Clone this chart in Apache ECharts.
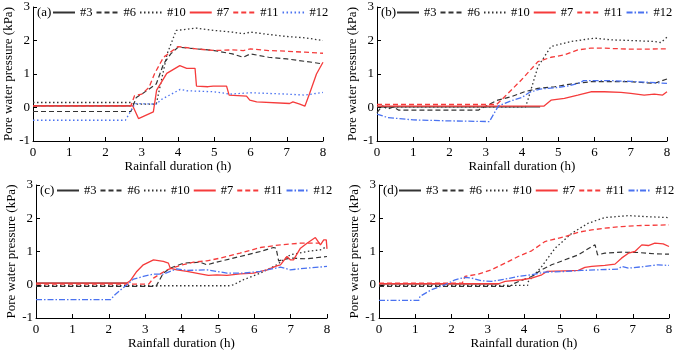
<!DOCTYPE html>
<html>
<head>
<meta charset="utf-8">
<script src="https://cdn.jsdelivr.net/npm/echarts@6/dist/echarts.min.js"></script>
<style>
  html, body { margin: 0; padding: 0; background: #fff; }
  #chart { width: 678px; height: 355px; }
</style>
</head>
<body>
<div id="chart"></div>
<script>
// sensor names and panel labels
var sensors = ['#3', '#6', '#10', '#7', '#11', '#12'];
var panels = ['(a)', '(b)', '(c)', '(d)'];
var xTicks = [0, 1, 2, 3, 4, 5, 6, 7, 8];
var yTicks = [-1, 0, 1, 2, 3];

// panel (a)  [hour, kPa]
var a3 = [[0, 0.05], [2.7, 0.05]];
var a6 = [[0, -0.12], [2.7, -0.12], [2.85, 0.3], [3.0, 0.4], [3.4, 0.7], [3.6, 1.3], [3.8, 1.6], [4.0, 1.8], [4.5, 1.75], [5.0, 1.7], [5.5, 1.6], [5.8, 1.5], [6.0, 1.6], [6.5, 1.5], [7.0, 1.45], [7.7, 1.35], [8.0, 1.3]];
var a10 = [[0, 0.15], [2.7, 0.15], [2.8, 0.1], [3.4, 0.1], [3.5, 0.6], [3.7, 1.6], [3.95, 2.3], [4.5, 2.37], [5.0, 2.3], [5.5, 2.25], [5.8, 2.2], [6.0, 2.25], [6.5, 2.18], [7.0, 2.12], [7.5, 2.08], [8.0, 2.0]];
var a7 = [[0, 0.05], [2.75, 0.05], [2.91, -0.33], [3.32, -0.13], [3.41, 0.52], [3.69, 1.02], [4.05, 1.25], [4.24, 1.17], [4.47, 1.17], [4.51, 0.64], [4.83, 0.62], [4.97, 0.64], [5.34, 0.64], [5.41, 0.37], [5.89, 0.34], [5.98, 0.22], [6.17, 0.17], [7.08, 0.12], [7.17, 0.17], [7.36, 0.1], [7.5, 0.04], [7.63, 0.42], [7.82, 1.0], [8.0, 1.35]];
var a11 = [[0, 0.05], [2.7, 0.05], [2.8, 0.35], [3.0, 0.4], [3.2, 0.6], [3.35, 1.0], [3.6, 1.5], [4.0, 1.82], [4.5, 1.75], [5.0, 1.7], [5.5, 1.72], [5.8, 1.7], [6.0, 1.75], [6.5, 1.7], [7.0, 1.68], [7.5, 1.65], [8.0, 1.62]];
var a12 = [[0, -0.38], [2.55, -0.38], [2.82, 0.12], [3.42, 0.1], [3.51, 0.22], [4.06, 0.54], [4.24, 0.5], [5.0, 0.47], [5.44, 0.4], [6.0, 0.44], [7.0, 0.4], [7.5, 0.37], [8.0, 0.45]];

// panel (b)
var b3 = [[0, 0.02], [4.5, 0.02]];
var b6 = [[0, -0.15], [0.15, 0.05], [0.3, -0.05], [0.45, 0.02], [0.6, -0.08], [2.8, -0.08], [2.87, -0.03], [3.33, 0.22], [3.7, 0.32], [4.07, 0.47], [4.44, 0.57], [4.9, 0.62], [5.35, 0.7], [5.9, 0.77], [6.27, 0.77], [7.0, 0.77], [7.65, 0.72], [8.0, 0.85]];
var b10 = [[0, 0.02], [4.1, 0.02], [4.16, 0.22], [4.44, 1.22], [4.8, 1.82], [5.35, 1.97], [6.0, 2.07], [6.45, 2.02], [7.0, 2.0], [7.65, 1.97], [7.83, 1.94], [8.0, 2.1]];
var b7 = [[0, 0.04], [4.6, 0.04], [4.8, 0.22], [5.17, 0.27], [5.54, 0.37], [5.9, 0.47], [6.27, 0.47], [6.73, 0.45], [7.0, 0.42], [7.37, 0.37], [7.65, 0.4], [7.88, 0.37], [8.0, 0.47]];
var b11 = [[0, 0.09], [3.3, 0.09], [3.52, 0.32], [3.98, 0.82], [4.44, 1.37], [4.8, 1.5], [5.17, 1.57], [5.54, 1.72], [5.9, 1.77], [6.27, 1.77], [7.0, 1.74], [8.0, 1.75]];
var b12 = [[0, -0.2], [0.3, -0.3], [1.0, -0.37], [2.0, -0.4], [3.1, -0.42], [3.35, 0.05], [3.7, 0.2], [4.0, 0.3], [4.2, 0.45], [4.5, 0.55], [5.0, 0.6], [5.3, 0.65], [5.55, 0.72], [5.7, 0.8], [6.0, 0.8], [6.5, 0.8], [7.0, 0.78], [7.5, 0.75], [8.0, 0.72]];

// panel (c)
var c3 = [[0, 0.05], [2.5, 0.05]];
var c6 = [[0, -0.05], [3.3, -0.05], [3.5, 0.35], [3.69, 0.5], [4.06, 0.65], [4.51, 0.68], [4.7, 0.6], [4.97, 0.68], [5.61, 0.85], [6.17, 1.0], [6.53, 1.12], [6.6, 1.1], [6.67, 0.72], [6.99, 0.8], [7.45, 0.78], [8.0, 0.85]];
var c10 = [[0, -0.03], [5.3, -0.03], [5.43, 0.0], [5.7, 0.15], [6.17, 0.35], [6.62, 0.6], [6.99, 0.9], [7.45, 1.0], [7.82, 1.05], [8.0, 1.15]];
var c7 = [[0, 0.05], [2.5, 0.05], [2.59, 0.12], [2.77, 0.4], [2.95, 0.6], [3.23, 0.75], [3.5, 0.7], [3.64, 0.65], [3.69, 0.5], [3.87, 0.45], [4.15, 0.4], [4.51, 0.33], [4.74, 0.28], [4.97, 0.3], [5.25, 0.28], [5.61, 0.33], [5.98, 0.35], [6.35, 0.45], [6.62, 0.57], [6.72, 0.6], [6.9, 0.85], [6.99, 0.75], [7.08, 0.75], [7.27, 1.1], [7.45, 1.25], [7.68, 1.42], [7.82, 1.2], [7.91, 1.35], [7.98, 1.35], [8.0, 1.08]];
var c11 = [[0, 0.02], [3.1, 0.02], [3.23, 0.2], [3.6, 0.45], [3.96, 0.58], [4.33, 0.68], [4.7, 0.72], [5.06, 0.8], [5.61, 0.95], [6.17, 1.12], [6.72, 1.2], [7.27, 1.25], [7.8, 1.25]];
var c12 = [[0, -0.45], [0.25, -0.45], [0.3, -0.4], [0.4, -0.45], [2.05, -0.45], [2.17, -0.3], [2.5, 0.0], [2.68, 0.17], [2.95, 0.25], [3.23, 0.32], [3.5, 0.32], [3.87, 0.48], [4.15, 0.43], [4.7, 0.45], [5.25, 0.35], [5.7, 0.35], [6.17, 0.4], [6.72, 0.53], [6.99, 0.45], [7.45, 0.5], [8.0, 0.55]];

// panel (d)
var d3 = [[0, 0.03], [3.3, 0.03]];
var d6 = [[0, -0.05], [3.6, -0.05], [3.75, 0.05], [4.21, 0.25], [4.49, 0.45], [4.76, 0.6], [5.13, 0.75], [5.5, 0.9], [5.87, 1.15], [5.96, 1.2], [6.03, 0.9], [6.23, 0.95], [6.69, 0.98], [7.15, 0.97], [7.61, 0.93], [8.0, 0.92]];
var d10 = [[0, -0.02], [4.1, -0.02], [4.12, 0.1], [4.49, 0.55], [4.86, 1.1], [5.32, 1.55], [5.77, 1.85], [6.23, 2.02], [6.88, 2.08], [7.34, 2.05], [8.0, 2.02]];
var d7 = [[0, 0.03], [3.3, 0.03], [3.48, 0.1], [3.94, 0.15], [4.21, 0.2], [4.49, 0.3], [4.63, 0.4], [5.13, 0.42], [5.5, 0.43], [5.68, 0.52], [5.87, 0.55], [6.23, 0.58], [6.51, 0.62], [6.69, 0.8], [6.88, 0.95], [7.06, 1.0], [7.25, 1.2], [7.43, 1.18], [7.61, 1.25], [7.84, 1.23], [8.0, 1.15]];
var d11 = [[0, 0.05], [2.3, 0.05], [2.37, 0.25], [2.74, 0.32], [3.1, 0.45], [3.48, 0.65], [3.84, 0.85], [4.21, 1.02], [4.58, 1.3], [4.76, 1.35], [5.13, 1.45], [5.5, 1.58], [5.87, 1.65], [6.23, 1.7], [6.69, 1.75], [7.15, 1.78], [8.0, 1.8]];
var d12 = [[0, -0.47], [1.1, -0.47], [1.13, -0.35], [1.45, -0.15], [1.82, 0.0], [2.1, 0.15], [2.37, 0.22], [2.56, 0.2], [2.83, 0.12], [3.1, 0.1], [3.48, 0.17], [3.84, 0.25], [4.21, 0.3], [4.58, 0.38], [5.13, 0.4], [5.59, 0.43], [6.05, 0.45], [6.6, 0.47], [6.69, 0.55], [6.88, 0.5], [7.34, 0.55], [7.7, 0.6], [8.0, 0.58]];

var panelData = [
    [a3, a6, a10, a7, a11, a12],
    [b3, b6, b10, b7, b11, b12],
    [c3, c6, c10, c7, c11, c12],
    [d3, d6, d10, d7, d11, d12]
];

var black = '#333333';
var red = '#f53b3b';
var blue = '#4a72f0';
var dotted = [1.5, 2.5];
var dashed = [5, 3];
var dashDot = [6, 2, 1.5, 2];

function lineStyleFor(s, p) {
    if (s === 0) return {color: black, width: 1.3, type: 'solid'};
    if (s === 1) return {color: black, width: 1.2, type: dashed};
    if (s === 2) return {color: black, width: 1.3, type: dotted};
    if (s === 3) return {color: red, width: 1.3, type: 'solid'};
    if (s === 4) return {color: red, width: 1.3, type: dashed};
    return {color: blue, width: 1.3, type: p === 0 ? dotted : dashDot};
}

var font = 'Liberation Serif';
var grids = [
    {left: 33, top: 7, width: 290, height: 134},
    {left: 377, top: 7, width: 290, height: 134},
    {left: 36, top: 185, width: 291, height: 133},
    {left: 379, top: 185, width: 290, height: 133}
];
var legendLeft = [52, 396, 56, 398];
var labelLeft = [37, 381, 40, 383];

var option = {
    backgroundColor: '#fff',
    animation: false,
    textStyle: {fontFamily: font},
    grid: grids,
    title: [],
    legend: [],
    xAxis: [],
    yAxis: [],
    series: []
};

panels.forEach(function (label, p) {
    option.title.push({
        text: label,
        left: labelLeft[p],
        top: grids[p].top - 1,
        padding: 0,
        textStyle: {fontFamily: font, fontSize: 13, fontWeight: 'normal', color: '#000'}
    });
    option.legend.push({
        left: legendLeft[p],
        top: grids[p].top - 1,
        padding: 0,
        itemWidth: 22,
        itemHeight: 14,
        itemGap: 3,
        itemStyle: {opacity: 0},
        data: sensors.map(function (n) { return p + n; }),
        formatter: function (name) { return name.slice(1); },
        textStyle: {fontFamily: font, fontSize: 12.5, color: '#000'}
    });
    option.xAxis.push({
        type: 'value',
        gridIndex: p,
        min: 0,
        max: 8,
        interval: 1,
        name: 'Rainfall duration (h)',
        nameLocation: 'middle',
        nameGap: 18,
        nameTextStyle: {fontFamily: font, fontSize: 13, color: '#000'},
        axisLine: {onZero: false, lineStyle: {color: '#000', width: 1}},
        axisTick: {inside: true, length: 4, lineStyle: {color: '#000'}},
        axisLabel: {margin: 5, fontFamily: font, fontSize: 13, color: '#000'},
        splitLine: {show: false}
    });
    option.yAxis.push({
        type: 'value',
        gridIndex: p,
        min: -1,
        max: 3,
        interval: 1,
        name: 'Pore water pressure (kPa)',
        nameLocation: 'middle',
        nameGap: 18,
        nameTextStyle: {fontFamily: font, fontSize: 13, color: '#000'},
        axisLine: {show: true, onZero: false, lineStyle: {color: '#000', width: 1}},
        axisTick: {show: true, inside: true, length: 4, lineStyle: {color: '#000'}},
        axisLabel: {margin: 3, fontFamily: font, fontSize: 13, color: '#000'},
        splitLine: {show: false}
    });
    sensors.forEach(function (n, s) {
        option.series.push({
            name: p + n,
            type: 'line',
            xAxisIndex: p,
            yAxisIndex: p,
            symbol: 'none',
            z: s === 0 ? 1 : 2,
            lineStyle: lineStyleFor(s, p),
            itemStyle: {color: lineStyleFor(s, p).color},
            data: panelData[p][s]
        });
    });
});

var chart = echarts.init(document.getElementById('chart'));
chart.setOption(option);
</script>
</body>
</html>
